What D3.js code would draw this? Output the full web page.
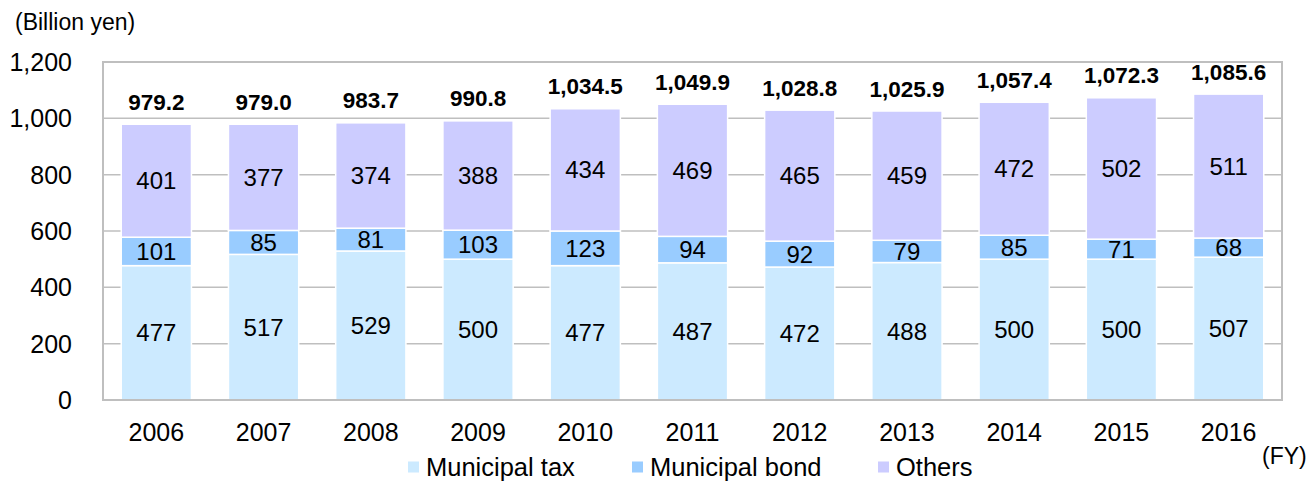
<!DOCTYPE html>
<html>
<head>
<meta charset="utf-8">
<script src="https://cdn.jsdelivr.net/npm/d3@7"></script>
<style>
  body { margin: 0; background: #fff; }
  svg text { font-family: "Liberation Sans", Arial, sans-serif; fill: #000; }
</style>
</head>
<body>
<div id="chart"></div>
<script>
const years = ["2006","2007","2008","2009","2010","2011","2012","2013","2014","2015","2016"];
const municipalTax = [477,517,529,500,477,487,472,488,500,500,507];
const municipalBond = [101,85,81,103,123,94,92,79,85,71,68];
const others = [401,377,374,388,434,469,465,459,472,502,511];
const totals = [979.2,979.0,983.7,990.8,1034.5,1049.9,1028.8,1025.9,1057.4,1072.3,1085.6];
const seriesNames = ["Municipal tax","Municipal bond","Others"];
const seriesColors = ["#cceaff","#99ccff","#ccccff"];
const yTicks = [0,200,400,600,800,1000,1200];

const W = 1311, H = 481;
const margin = {top: 62, right: 29, bottom: 81, left: 103};
const width = W - margin.left - margin.right;
const height = H - margin.top - margin.bottom;

const svg = d3.select("#chart").append("svg")
    .attr("width", W)
    .attr("height", H);

const g = svg.append("g")
    .attr("transform", "translate(" + margin.left + "," + margin.top + ")");

const xScale = d3.scaleBand().domain(years).range([0, width]).paddingInner(0.345).paddingOuter(0.17);
const yScale = d3.scaleLinear().domain([0, 1200]).range([height, 0]);

// gridlines
g.selectAll(".grid").data(yTicks.slice(1)).join("line")
    .attr("x1", 0).attr("x2", width)
    .attr("y1", d => yScale(d)).attr("y2", d => yScale(d))
    .attr("stroke", "#bfbfbf").attr("stroke-width", 1.5);

// stacked data
const rows = years.map((y, i) => ({year: y, tax: municipalTax[i], bond: municipalBond[i], others: others[i]}));
const stack = d3.stack().keys(["tax","bond","others"]);
const layers = stack(rows);

const layerG = g.selectAll(".layer").data(layers).join("g")
    .attr("fill", (d, i) => seriesColors[i]);

layerG.selectAll("rect").data(d => d).join("rect")
    .attr("x", d => xScale(d.data.year))
    .attr("width", xScale.bandwidth())
    .attr("y", d => yScale(d[1]))
    .attr("height", d => yScale(d[0]) - yScale(d[1]))
    .attr("stroke", "#fff")
    .attr("stroke-width", 1.5);

layerG.selectAll("text").data(d => d).join("text")
    .attr("x", d => xScale(d.data.year) + xScale.bandwidth() / 2)
    .attr("y", d => (yScale(d[0]) + yScale(d[1])) / 2)
    .attr("text-anchor", "middle")
    .attr("dominant-baseline", "central")
    .attr("font-size", 24)
    .text(d => d[1] - d[0]);

// totals
g.selectAll(".total").data(years).join("text")
    .attr("class", "total")
    .attr("x", d => xScale(d) + xScale.bandwidth() / 2)
    .attr("y", (d, i) => yScale(totals[i]) - 22)
    .attr("text-anchor", "middle")
    .attr("dominant-baseline", "central")
    .attr("font-size", 22.5)
    .attr("font-weight", "bold")
    .text((d, i) => d3.format(",.1f")(totals[i]));

// frame
g.append("rect")
    .attr("x", 0).attr("y", 0)
    .attr("width", width).attr("height", height)
    .attr("fill", "none")
    .attr("stroke", "#bfbfbf").attr("stroke-width", 2);

// y axis labels
g.selectAll(".ytick").data(yTicks).join("text")
    .attr("x", -31)
    .attr("y", d => yScale(d))
    .attr("text-anchor", "end")
    .attr("dominant-baseline", "central")
    .attr("font-size", 25)
    .text(d => d3.format(",")(d));

// x axis labels
g.selectAll(".xtick").data(years).join("text")
    .attr("x", d => xScale(d) + xScale.bandwidth() / 2)
    .attr("y", height + 32)
    .attr("text-anchor", "middle")
    .attr("dominant-baseline", "central")
    .attr("font-size", 25)
    .text(d => d);

svg.append("text")
    .attr("x", 15).attr("y", 22)
    .attr("dominant-baseline", "central")
    .attr("font-size", 23)
    .text("(Billion yen)");

svg.append("text")
    .attr("x", 1262).attr("y", 456)
    .attr("dominant-baseline", "central")
    .attr("font-size", 23)
    .text("(FY)");

// legend
const legendX = [408, 632, 878];
const legend = svg.selectAll(".legend").data(seriesNames).join("g")
    .attr("transform", (d, i) => "translate(" + legendX[i] + ",467)");
legend.append("rect")
    .attr("x", 0).attr("y", -5.5)
    .attr("width", 11).attr("height", 11)
    .attr("fill", (d, i) => seriesColors[i]);
legend.append("text")
    .attr("x", 18).attr("y", 0)
    .attr("dominant-baseline", "central")
    .attr("font-size", 25.5)
    .text(d => d);
</script>
</body>
</html>
